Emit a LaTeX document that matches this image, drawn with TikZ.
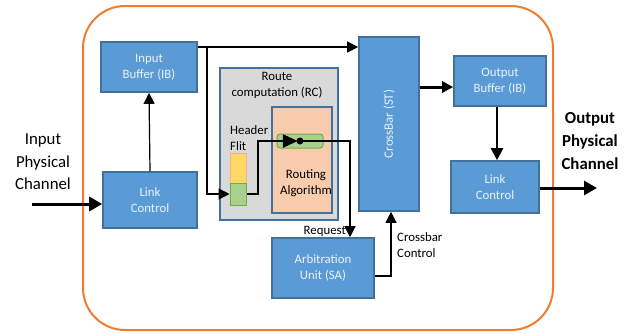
\documentclass[tikz,border=0pt]{standalone}
\usepackage{fontspec}
\setmainfont{Carlito}
\usetikzlibrary{arrows.meta,positioning}
\definecolor{bfill}{HTML}{5B9BD5}
\definecolor{bdraw}{HTML}{41719C}
\definecolor{oframe}{HTML}{ED7D31}
\definecolor{rcfill}{HTML}{D9D9D9}
\definecolor{rafill}{HTML}{F8CBAD}
\definecolor{yfill}{HTML}{FFD966}
\definecolor{ydraw}{HTML}{F4B183}
\definecolor{gfill}{HTML}{A9D18E}
\definecolor{gdraw}{HTML}{70AD47}
\definecolor{btext}{HTML}{EAF1FA}
\tikzset{
  x=1pt,y=-1pt,
  bluebox/.style={draw=bdraw,fill=bfill,line width=1.6pt,text=btext,align=center,
     font=\fontsize{12.8}{16}\selectfont,inner sep=0pt},
  conn/.style={line width=1.2pt,-{Triangle[length=11pt,width=11pt]}},
  thick conn/.style={line width=3pt,-{Triangle[length=13pt,width=14pt]}},
  lbl/.style={font=\fontsize{12.8}{16}\selectfont,align=left,inner sep=0pt},
  biglbl/.style={font=\fontsize{16.8}{22.5}\selectfont,align=center,inner sep=0pt},
}
\begin{document}
\begin{tikzpicture}
\useasboundingbox (0,0) rectangle (632,333);
% router frame
\draw[oframe,line width=2pt,rounded corners=42pt] (83,6) rectangle (553,330);

% blue boxes
\node[bluebox,minimum width=96pt,minimum height=50pt] (ib) at (149,67) {Input\\Buffer (IB)};
\node[bluebox,minimum width=94pt,minimum height=56pt] (lcin) at (150,200) {Link\\Control};
\node[bluebox,minimum width=60pt,minimum height=174pt] (xb) at (389,124) {\rotatebox{90}{CrossBar (ST)}};
\node[bluebox,minimum width=92pt,minimum height=50pt] (ob) at (500,81) {Output\\Buffer (IB)};
\node[bluebox,minimum width=88pt,minimum height=52pt] (lcout) at (495,187) {Link\\Control};
\node[bluebox,minimum width=102pt,minimum height=60pt] (sa) at (323,268) {Arbitration\\Unit (SA)};

% route computation
\node[draw=bdraw,fill=rcfill,line width=1.6pt,minimum width=118pt,minimum height=152pt,inner sep=0pt] (rc) at (279,144) {};
\node[lbl,align=center] (rct) at (277,85.5) {Route\\computation (RC)};
\node[draw=bdraw,fill=rafill,line width=1.6pt,minimum width=60pt,minimum height=106pt,inner sep=0pt] (ra) at (302,160) {};
\node[lbl,align=center] (rat) at (306,183.5) {Routing\\Algorithm};
\node[lbl,anchor=west] (hf) at (230,138.5) {Header\\Flit};
\node[draw=ydraw,fill=yfill,line width=1pt,minimum width=16pt,minimum height=30pt,inner sep=0pt] (yf) at (238,168) {};
\node[draw=gdraw,fill=gfill,line width=1pt,minimum width=16pt,minimum height=22pt,inner sep=0pt] (gf) at (238,194) {};
\node[draw=gdraw,fill=gfill,line width=1pt,rounded corners=3pt,minimum width=46pt,minimum height=14pt,inner sep=0pt] (pill) at (300,141) {};
\node[circle,fill=black,inner sep=0pt,minimum size=7pt] (dot) at (300,141) {};

% labels
\node[biglbl] (inlbl) at (43,162) {Input\\Physical\\Channel};
\node[biglbl,font=\bfseries\fontsize{16.8}{23}\selectfont] (outlbl) at (590,141) {Output\\Physical\\Channel};
\node[lbl,anchor=east] (req) at (346,231) {Request};
\node[lbl,anchor=west] (xcl) at (397,245) {Crossbar\\Control};

% connectors
\coordinate (instart) at (32,204);
\draw[thick conn] (instart) -- (lcin.west |- instart);
\draw[conn] (lcin.north) -- (ib.south);
\coordinate (br) at (207,47);
\draw[conn] (ib.east |- br) -- (xb.west |- br);
\draw[conn] (br) |- (gf.west);
\draw[line width=1.2pt] (gf.east) -| (258,141) -- (283,141);
\draw[fill=black] (283,134.5) -- (297,141) -- (283,147.5) -- cycle;
\draw[conn] (dot.center) -| (sa.north -| 350,0);
\draw[conn] (sa.east |- 0,276) -| (xb.south -| 391,0);
\draw[line width=3pt,-{Triangle[length=11pt,width=11pt]}] (xb.east |- 0,87) -- (ob.west |- 0,87);
\draw[line width=2.4pt,-{Triangle[length=12pt,width=12pt]}] (ob.south -| 497,0) -- (lcout.north -| 497,0);
\coordinate (outend) at (597,188);
\draw[thick conn] (lcout.east |- outend) -- (outend);
\end{tikzpicture}
\end{document}
